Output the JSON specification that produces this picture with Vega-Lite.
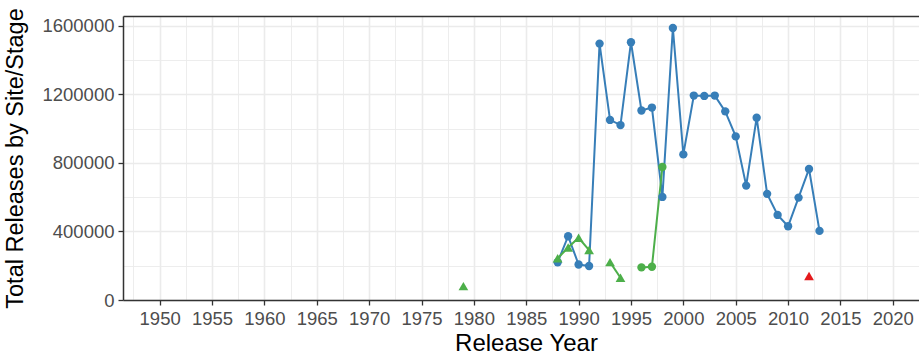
{
  "$schema": "https://vega.github.io/schema/vega-lite/v6.json",
  "autosize": "none",
  "width": 796,
  "height": 284,
  "padding": {"left": 123, "top": 16, "right": 0, "bottom": 58},
  "background": "white",
  "config": {
    "view": {"stroke": null},
    "font": "Liberation Sans"
  },
  "data": {
    "values": [
      {"year": 1988, "value": 220000, "series": "blue", "kind": "circle", "grp": "b1"},
      {"year": 1989, "value": 372000, "series": "blue", "kind": "circle", "grp": "b1"},
      {"year": 1990, "value": 207000, "series": "blue", "kind": "circle", "grp": "b1"},
      {"year": 1991, "value": 198000, "series": "blue", "kind": "circle", "grp": "b1"},
      {"year": 1992, "value": 1495000, "series": "blue", "kind": "circle", "grp": "b1"},
      {"year": 1993, "value": 1050000, "series": "blue", "kind": "circle", "grp": "b1"},
      {"year": 1994, "value": 1020000, "series": "blue", "kind": "circle", "grp": "b1"},
      {"year": 1995, "value": 1503000, "series": "blue", "kind": "circle", "grp": "b1"},
      {"year": 1996, "value": 1105000, "series": "blue", "kind": "circle", "grp": "b1"},
      {"year": 1997, "value": 1122000, "series": "blue", "kind": "circle", "grp": "b1"},
      {"year": 1998, "value": 601000, "series": "blue", "kind": "circle", "grp": "b1"},
      {"year": 1999, "value": 1586000, "series": "blue", "kind": "circle", "grp": "b1"},
      {"year": 2000, "value": 849000, "series": "blue", "kind": "circle", "grp": "b1"},
      {"year": 2001, "value": 1192000, "series": "blue", "kind": "circle", "grp": "b1"},
      {"year": 2002, "value": 1190000, "series": "blue", "kind": "circle", "grp": "b1"},
      {"year": 2003, "value": 1192000, "series": "blue", "kind": "circle", "grp": "b1"},
      {"year": 2004, "value": 1100000, "series": "blue", "kind": "circle", "grp": "b1"},
      {"year": 2005, "value": 954000, "series": "blue", "kind": "circle", "grp": "b1"},
      {"year": 2006, "value": 667000, "series": "blue", "kind": "circle", "grp": "b1"},
      {"year": 2007, "value": 1063000, "series": "blue", "kind": "circle", "grp": "b1"},
      {"year": 2008, "value": 619000, "series": "blue", "kind": "circle", "grp": "b1"},
      {"year": 2009, "value": 496000, "series": "blue", "kind": "circle", "grp": "b1"},
      {"year": 2010, "value": 430000, "series": "blue", "kind": "circle", "grp": "b1"},
      {"year": 2011, "value": 597000, "series": "blue", "kind": "circle", "grp": "b1"},
      {"year": 2012, "value": 764000, "series": "blue", "kind": "circle", "grp": "b1"},
      {"year": 2013, "value": 403000, "series": "blue", "kind": "circle", "grp": "b1"},
      {"year": 1979, "value": 81000, "series": "green", "kind": "triangle", "grp": "g0"},
      {"year": 1988, "value": 243000, "series": "green", "kind": "triangle", "grp": "g1"},
      {"year": 1989, "value": 306000, "series": "green", "kind": "triangle", "grp": "g1"},
      {"year": 1990, "value": 363000, "series": "green", "kind": "triangle", "grp": "g1"},
      {"year": 1991, "value": 291000, "series": "green", "kind": "triangle", "grp": "g1"},
      {"year": 1993, "value": 221000, "series": "green", "kind": "triangle", "grp": "g2"},
      {"year": 1994, "value": 130000, "series": "green", "kind": "triangle", "grp": "g2"},
      {"year": 1996, "value": 190000, "series": "green", "kind": "circle", "grp": "g3"},
      {"year": 1997, "value": 194000, "series": "green", "kind": "circle", "grp": "g3"},
      {"year": 1998, "value": 776000, "series": "green", "kind": "circle", "grp": "g3"},
      {"year": 2012, "value": 140000, "series": "red", "kind": "triangle", "grp": "r0"}
    ]
  },
  "encoding": {
    "y": {
      "field": "value",
      "type": "quantitative",
      "scale": {"domain": [0, 1656000], "nice": false, "zero": false},
      "axis": {
        "title": "Total Releases by Site/Stage",
        "titleFontSize": 23.5,
        "titleFontWeight": "normal",
        "titleColor": "black",
        "titlePadding": 14,
        "values": [0, 200000, 400000, 600000, 800000, 1000000, 1200000, 1400000, 1600000],
        "labelExpr": "datum.value % 400000 === 0 ? datum.value : ''",
        "labelFontSize": 18.5,
        "labelColor": "#4D4D4D",
        "labelPadding": 4,
        "domainColor": "#333333",
        "domainWidth": 1.5,
        "tickColor": "#333333",
        "tickWidth": 1.3,
        "tickSize": 5,
        "tickOpacity": {"condition": {"test": "datum.value % 400000 === 0", "value": 1}, "value": 0},
        "grid": true,
        "gridColor": "#EBEBEB",
        "gridWidth": {"condition": {"test": "datum.value % 400000 === 0", "value": 1.6}, "value": 0.9}
      }
    }
  },
  "layer": [
    {
      "mark": {"type": "line", "strokeWidth": 2},
      "encoding": {
        "x": {
          "field": "year",
          "type": "quantitative",
          "scale": {"domain": [1946.5, 2022.5], "nice": false, "zero": false},
          "axis": {"orient": "top", "title": null, "labels": false, "ticks": false, "grid": false, "domain": true, "domainColor": "#333333", "domainWidth": 1.5}
        },
        "detail": {"field": "grp"},
        "color": {
          "field": "series",
          "type": "nominal",
          "scale": {"domain": ["blue", "green", "red"], "range": ["#377EB8", "#4DAF4A", "#E41A1C"]},
          "legend": null
        }
      }
    },
    {
      "mark": {"type": "point", "filled": true, "opacity": 1},
      "encoding": {
        "x": {
          "field": "year",
          "type": "quantitative",
          "scale": {"domain": [1946.5, 2022.5], "nice": false, "zero": false},
          "axis": {
            "title": "Release Year",
            "titleFontSize": 24,
            "titleFontWeight": "normal",
            "titleColor": "black",
            "titlePadding": 4,
            "titleX": 403,
            "titleAlign": "center",
            "values": [1947.5, 1950, 1952.5, 1955, 1957.5, 1960, 1962.5, 1965, 1967.5, 1970, 1972.5, 1975, 1977.5, 1980, 1982.5, 1985, 1987.5, 1990, 1992.5, 1995, 1997.5, 2000, 2002.5, 2005, 2007.5, 2010, 2012.5, 2015, 2017.5, 2020, 2022.5],
            "labelExpr": "datum.value % 5 === 0 ? datum.value : ''",
            "labelFontSize": 18.5,
            "labelColor": "#4D4D4D",
            "labelPadding": 4,
            "labelOverlap": false,
            "domainColor": "#333333",
            "domainWidth": 1.5,
            "tickColor": "#333333",
            "tickWidth": 1.3,
            "tickSize": 5,
            "tickOpacity": {"condition": {"test": "datum.value % 5 === 0", "value": 1}, "value": 0},
            "grid": true,
            "gridColor": "#EBEBEB",
            "gridWidth": {"condition": {"test": "datum.value % 5 === 0", "value": 1.6}, "value": 0.9}
          }
        },
        "color": {"field": "series", "type": "nominal", "legend": null},
        "shape": {
          "field": "kind",
          "type": "nominal",
          "scale": {"domain": ["circle", "triangle"], "range": ["circle", "triangle-up"]},
          "legend": null
        },
        "size": {
          "field": "kind",
          "type": "nominal",
          "scale": {"domain": ["circle", "triangle"], "range": [70, 95]},
          "legend": null
        }
      }
    }
  ],
  "resolve": {"axis": {"x": "independent"}}
}
